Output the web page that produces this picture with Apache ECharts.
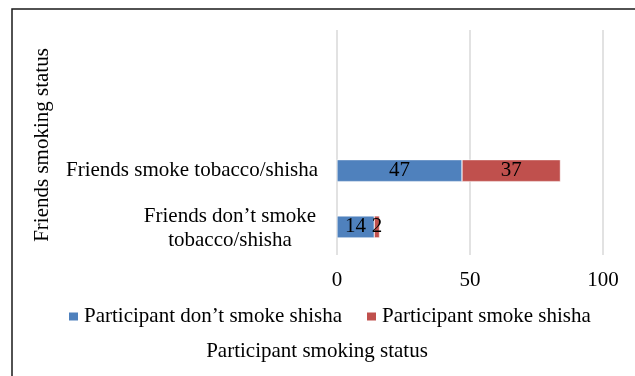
<!DOCTYPE html>
<html>
<head>
<meta charset="utf-8">
<script src="https://cdn.jsdelivr.net/npm/echarts@6/dist/echarts.min.js"></script>
<style>
  html, body { margin: 0; padding: 0; background: #fff; }
  #chart { width: 635px; height: 376px; }
</style>
</head>
<body>
<div id="chart"></div>
<script>
// categories from bottom to top (two empty slots on top, as in the original)
const categories = ['Friends don’t smoke\ntobacco/shisha', 'Friends smoke tobacco/shisha', '', ''];
const dontSmoke = [14, 47, null, null];
const smoke = [2, 37, null, null];
const seriesNames = ['Participant don’t smoke shisha', 'Participant smoke shisha'];
const xTicks = [0, 50, 100];

const font = 'Liberation Serif';
const myChart = echarts.init(document.getElementById('chart'));

const option = {
    animation: false,
    textStyle: { fontFamily: font, color: '#000' },
    grid: { left: 337, right: 32, top: 30, bottom: 121 },
    graphic: [
        {
            type: 'rect',
            shape: { x: 12, y: 9, width: 640, height: 380 },
            style: { fill: 'none', stroke: '#1a1a1a', lineWidth: 1.5 },
            silent: true
        },
        {
            type: 'text',
            x: 32,
            y: 145,
            rotation: Math.PI / 2,
            style: {
                text: 'Friends smoking status',
                font: '21px "Liberation Serif"',
                fill: '#000',
                align: 'center',
                verticalAlign: 'top'
            }
        },
        {
            type: 'text',
            x: 317,
            y: 351,
            style: {
                text: 'Participant smoking status',
                font: '21px "Liberation Serif"',
                fill: '#000',
                align: 'center',
                verticalAlign: 'middle'
            }
        }
    ],
    legend: {
        data: seriesNames,
        top: 301,
        left: 62,
        itemWidth: 11,
        itemHeight: 10,
        itemGap: 23,
        icon: 'rect',
        textStyle: { fontFamily: font, fontSize: 21, color: '#000' }
    },
    xAxis: {
        type: 'value',
        min: xTicks[0],
        max: xTicks[xTicks.length - 1],
        interval: 50,
        axisLine: { show: false },
        axisTick: { show: false },
        axisLabel: { fontFamily: font, fontSize: 21, color: '#000', margin: 15 },
        splitLine: { lineStyle: { color: '#d9d9d9', width: 1.5 } }
    },
    yAxis: {
        type: 'category',
        data: categories,
        axisLine: { show: false },
        axisTick: { show: false },
        axisLabel: {
            margin: 19,
            formatter: function (v) {
                if (v.indexOf('\n') >= 0) {
                    return v.split('\n').map(s => '{c|' + s + '}').join('\n');
                }
                return '{s|' + v + '}';
            },
            rich: {
                c: { fontFamily: font, fontSize: 21, color: '#000', width: 176, align: 'center', lineHeight: 24, padding: [4, 0, 0, 0] },
                s: { fontFamily: font, fontSize: 21, color: '#000' }
            }
        }
    },
    series: [
        {
            name: seriesNames[0],
            type: 'bar',
            stack: 'total',
            data: dontSmoke,
            barWidth: 22,
            itemStyle: { color: '#4F81BD', borderColor: '#fff', borderWidth: 0.5 },
            label: { show: true, position: 'inside', color: '#000', fontFamily: font, fontSize: 21 }
        },
        {
            name: seriesNames[1],
            type: 'bar',
            stack: 'total',
            data: smoke,
            barWidth: 22,
            itemStyle: { color: '#C0504D', borderColor: '#fff', borderWidth: 0.5 },
            label: { show: true, position: 'inside', color: '#000', fontFamily: font, fontSize: 21 }
        }
    ]
};

myChart.setOption(option);
window.addEventListener('resize', () => {
    myChart.resize();
});
</script>
</body>
</html>
